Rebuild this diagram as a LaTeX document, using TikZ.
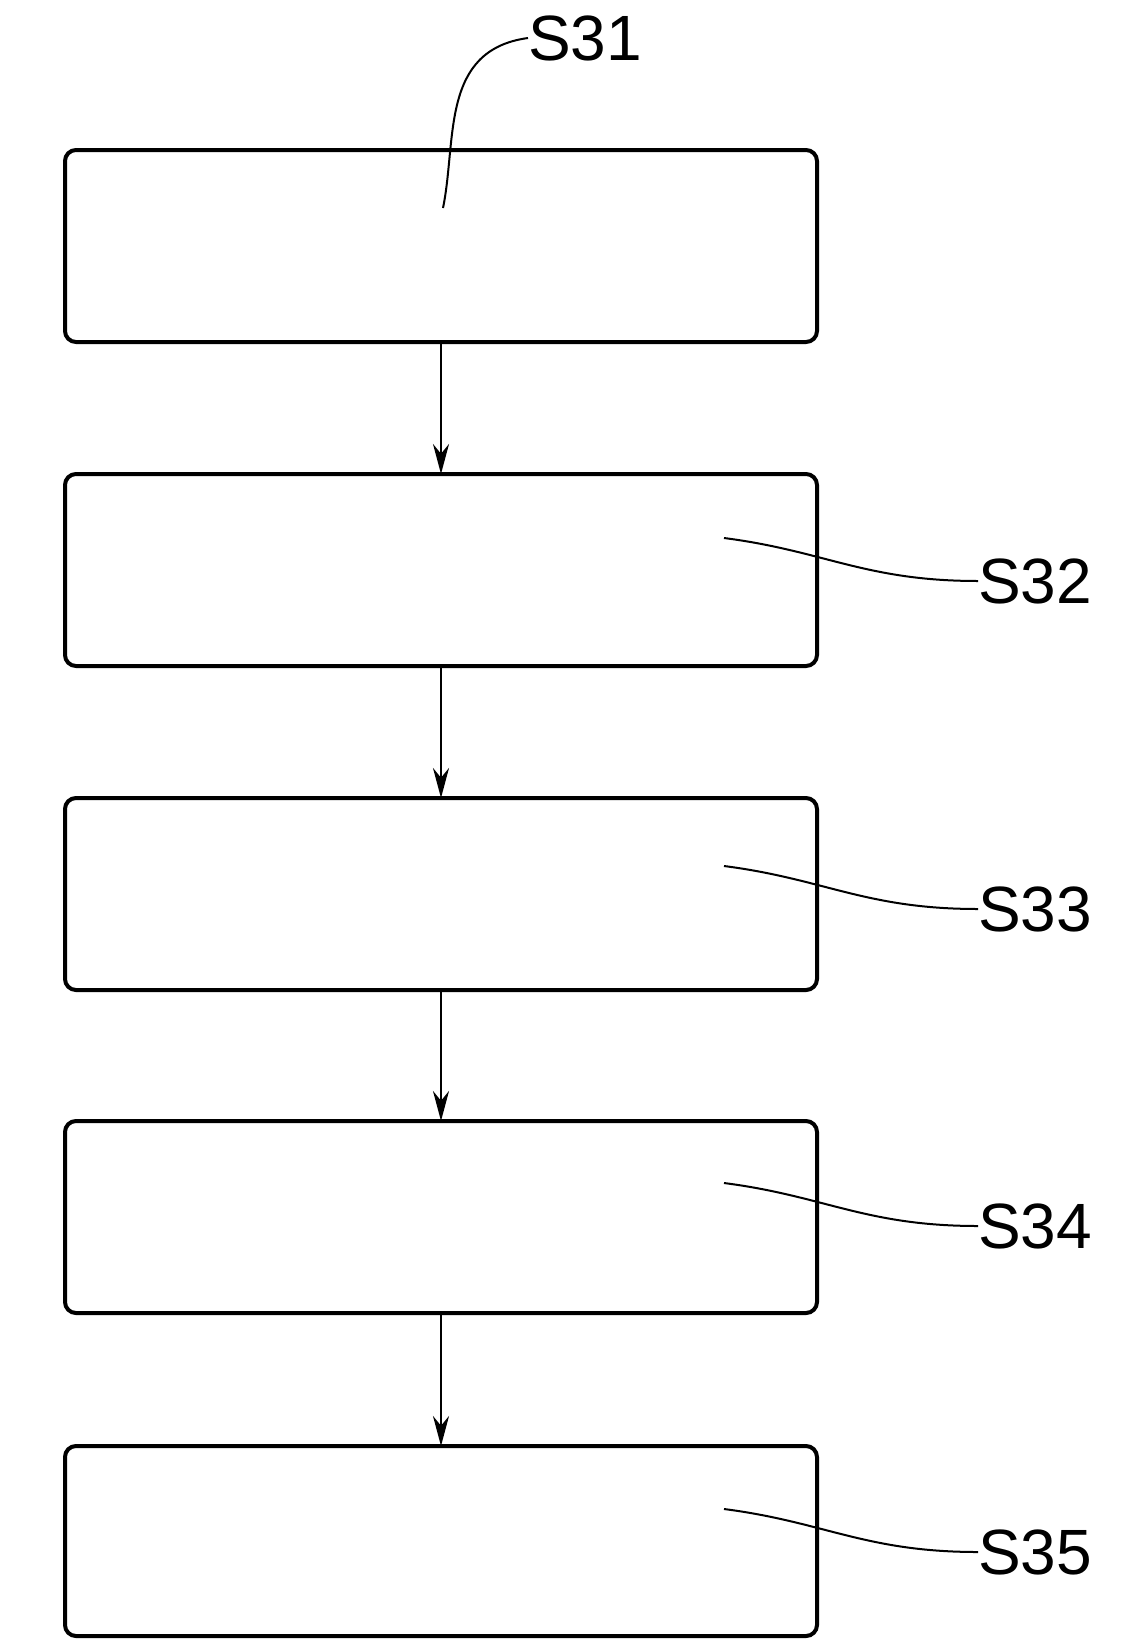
\documentclass[tikz,border=0pt]{standalone}
\usepackage{fontspec}
\setmainfont{Liberation Sans}
\usetikzlibrary{arrows.meta}
\begin{document}
\begin{tikzpicture}[x=1pt,y=-1pt,
 stepbox/.style={draw,line width=4pt,rounded corners=11pt},
 flow/.style={line width=2.6pt,-{Stealth[length=30pt,width=16pt]}},
 lead/.style={line width=2pt},
 lab/.style={font=\fontsize{64}{64}\selectfont,inner sep=0pt}]
\useasboundingbox (0,0) rectangle (1144,1649);
\foreach \n/\t/\b in {1/150/342,2/474/666,3/798/990,4/1121/1313,5/1446/1636}{
  \draw[stepbox] (65,\t) rectangle (817,\b);
  \coordinate (t\n) at (441,\t);
  \coordinate (b\n) at (441,\b);
}
\draw[flow] (b1) -- (t2);
\draw[flow] (b2) -- (t3);
\draw[flow] (b3) -- (t4);
\draw[flow] (b4) -- (t5);
\node[lab,anchor=west] (L1) at (528,38) {S31};
\draw[lead] (443,208) .. controls (457,140) and (440,50) .. (L1.west);
\foreach \n/\y in {2/581,3/909,4/1226,5/1552}{
  \node[lab,anchor=west] (L\n) at (978,\y) {S3\n};
  \draw[lead] (724,\y-43) .. controls (825,\y-30) and (865,\y) .. (L\n.west);
}
\end{tikzpicture}
\end{document}
